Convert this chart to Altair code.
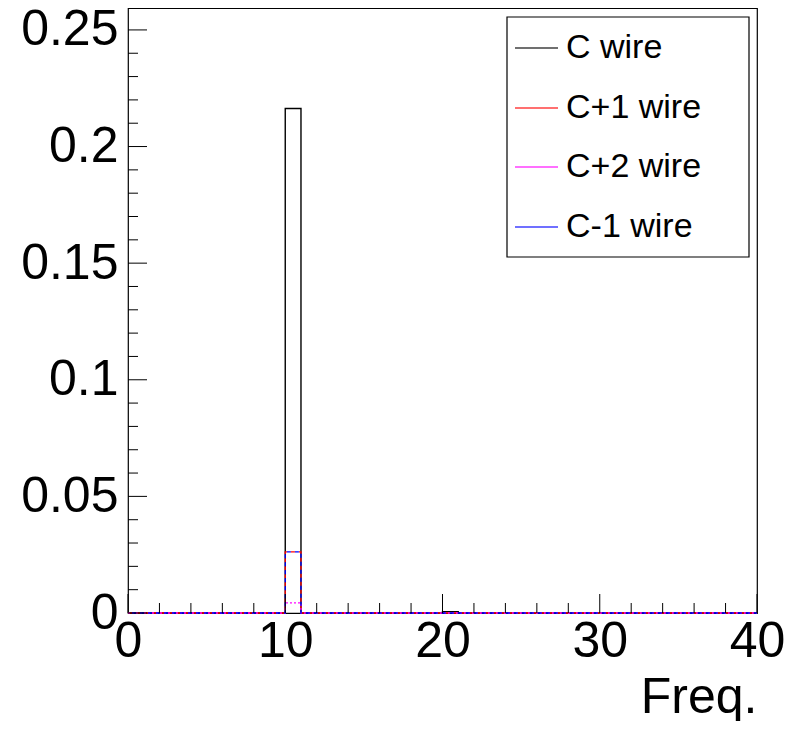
import altair as alt
import pandas as pd

# ---- data ----
edges = list(range(0, 41))  # bin edges 0..40, width 1
series_names = ["C wire", "C+1 wire", "C+2 wire", "C-1 wire"]
series_colors = ["#000000", "#ff0000", "#ff00ff", "#0000ff"]

c_wire = [0, 0, 0, 0, 0, 0, 0, 0, 0, 0,
          0.2163, 0, 0, 0, 0, 0, 0, 0, 0, 0,
          0.0006, 0, 0, 0, 0, 0, 0, 0, 0, 0,
          0, 0, 0, 0, 0, 0, 0, 0, 0, 0]
cp1_wire = [0, 0, 0, 0, 0, 0, 0, 0, 0, 0,
            0.0262, 0, 0, 0, 0, 0, 0, 0, 0, 0,
            0, 0, 0, 0, 0, 0, 0, 0, 0, 0,
            0, 0, 0, 0, 0, 0, 0, 0, 0, 0]
cp2_wire = [0, 0, 0, 0, 0, 0, 0, 0, 0, 0,
            0.0043, 0, 0, 0, 0, 0, 0, 0, 0, 0,
            0, 0, 0, 0, 0, 0, 0, 0, 0, 0,
            0, 0, 0, 0, 0, 0, 0, 0, 0, 0]
cm1_wire = [0, 0, 0, 0, 0, 0, 0, 0, 0, 0,
            0.0262, 0, 0, 0, 0, 0, 0, 0, 0, 0,
            0, 0, 0, 0, 0, 0, 0, 0, 0, 0,
            0, 0, 0, 0, 0, 0, 0, 0, 0, 0]

x_major = [0, 10, 20, 30, 40]
x_minor = [2, 4, 6, 8, 12, 14, 16, 18, 22, 24, 26, 28, 32, 34, 36, 38]
y_major = [0, 0.05, 0.1, 0.15, 0.2, 0.25]
y_minor = [0.01, 0.02, 0.03, 0.04, 0.06, 0.07, 0.08, 0.09, 0.11, 0.12, 0.13,
           0.14, 0.16, 0.17, 0.18, 0.19, 0.21, 0.22, 0.23, 0.24]

W, H = 629, 605
FONT = "Liberation Sans"
FS = 50

xs = alt.Scale(domain=[0, 40], nice=False, zero=False)
ys = alt.Scale(domain=[0, 0.2594], nice=False, zero=False)


def hist_df(vals):
    return pd.DataFrame({"x": edges, "y": list(vals) + [vals[-1]]})


styles = [
    dict(strokeDash=[1, 0], strokeWidth=1.4),
    dict(strokeDash=[4, 4], strokeWidth=1.3),
    dict(strokeDash=[2, 2], strokeWidth=1.3),
    dict(strokeDash=[4, 4], strokeDashOffset=4, strokeWidth=1.3),
]

layers = []
for i, vals in enumerate([c_wire, cp1_wire, cp2_wire, cm1_wire]):
    enc = dict(
        x=alt.X("x:Q", scale=xs,
                axis=alt.Axis(values=x_major, ticks=False, tickSize=0, domain=False,
                              grid=False, labelFont=FONT, labelFontSize=FS,
                              labelFlush=False, labelOverlap=False,
                              labelPadding=3, labelColor="black",
                              title="Freq.", titleFont=FONT, titleFontSize=FS,
                              titleFontWeight="normal", titleAnchor="end",
                              titleColor="black", titlePadding=6)),
        y=alt.Y("y:Q", scale=ys,
                axis=alt.Axis(values=y_major, format="~g", ticks=False, tickSize=0,
                              domain=False, grid=False, labelFont=FONT,
                              labelFlush=False, labelOverlap=False,
                              labelFontSize=FS, labelPadding=10, labelColor="black",
                              title=None)),
    )
    layers.append(
        alt.Chart(hist_df(vals)).mark_line(
            interpolate="step-after", color=series_colors[i], **styles[i]
        ).encode(**enc)
    )

# inside ticks (ROOT style)
tick_col = "#000000"
layers.append(alt.Chart(pd.DataFrame({"v": x_major})).mark_rule(color=tick_col, strokeWidth=1)
              .encode(x=alt.X("v:Q", scale=xs), y=alt.value(H), y2=alt.value(H - 19)))
layers.append(alt.Chart(pd.DataFrame({"v": x_minor})).mark_rule(color=tick_col, strokeWidth=1)
              .encode(x=alt.X("v:Q", scale=xs), y=alt.value(H), y2=alt.value(H - 10)))
layers.append(alt.Chart(pd.DataFrame({"v": y_major})).mark_rule(color=tick_col, strokeWidth=1)
              .encode(y=alt.Y("v:Q", scale=ys), x=alt.value(0), x2=alt.value(19)))
layers.append(alt.Chart(pd.DataFrame({"v": y_minor})).mark_rule(color=tick_col, strokeWidth=1)
              .encode(y=alt.Y("v:Q", scale=ys), x=alt.value(0), x2=alt.value(10)))

# legend box
layers.append(alt.Chart(pd.DataFrame({"a": [0]})).mark_rect(fill="white", stroke="black", strokeWidth=1.2)
              .encode(x=alt.value(379), x2=alt.value(621), y=alt.value(9), y2=alt.value(249)))
row_y = [40, 100, 159, 219]
for name, col, yy in zip(series_names, series_colors, row_y):
    d = pd.DataFrame({"name": [name]})
    layers.append(alt.Chart(d).mark_rule(color=col, strokeWidth=1.5, opacity=0.75)
                  .encode(x=alt.value(387), x2=alt.value(430), y=alt.value(yy)))
    layers.append(alt.Chart(d).mark_text(align="left", baseline="middle", font=FONT,
                                         fontSize=34, color="black")
                  .encode(text="name:N", x=alt.value(438), y=alt.value(yy)))

chart = alt.layer(*layers).properties(
    width=W, height=H,
    autosize=alt.AutoSizeParams(type="none"),
    padding={"left": 120, "top": 0, "right": 27, "bottom": 108},
).configure_view(stroke="black", strokeWidth=1.2)

chart.save("out.html", embed_options={"renderer": "svg", "actions": False})
